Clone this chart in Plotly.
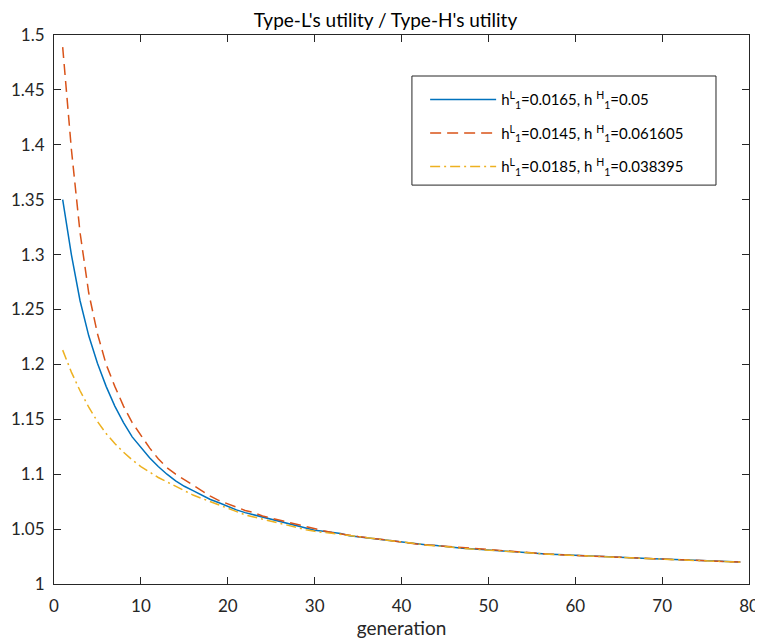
import plotly.graph_objects as go

generations = list(range(1, 80))

blue_vals = [
    1.350, 1.300, 1.258, 1.226, 1.201, 1.180, 1.162, 1.147, 1.134, 1.124,
    1.115, 1.107, 1.100, 1.094, 1.089, 1.085, 1.081, 1.077, 1.074, 1.0705,
    1.0675, 1.065, 1.063, 1.061, 1.0585, 1.0565, 1.0545, 1.0525, 1.0507, 1.049,
    1.048, 1.047, 1.046, 1.044, 1.043, 1.042, 1.041, 1.040, 1.039, 1.038,
    1.037, 1.036, 1.0355, 1.035, 1.034, 1.0333, 1.0326, 1.032, 1.0314, 1.031,
    1.0304, 1.0298, 1.0292, 1.0287, 1.0282, 1.0277, 1.0272, 1.0268, 1.0264, 1.026,
    1.0256, 1.0252, 1.0248, 1.0245, 1.0242, 1.0239, 1.0236, 1.0233, 1.023, 1.0227,
    1.0224, 1.0221, 1.0218, 1.0215, 1.0212, 1.0209, 1.0206, 1.0203, 1.020,
]

red_vals = [
    1.489, 1.396, 1.320, 1.265, 1.228, 1.200, 1.180, 1.162, 1.147, 1.135,
    1.124, 1.114, 1.106, 1.100, 1.095, 1.090, 1.085, 1.080, 1.076, 1.073,
    1.070, 1.067, 1.065, 1.062, 1.060, 1.058, 1.056, 1.054, 1.052, 1.050,
    1.0485, 1.047, 1.046, 1.0445, 1.0433, 1.0422, 1.0412, 1.0402, 1.0392, 1.0382,
    1.0372, 1.0362, 1.0356, 1.035, 1.034, 1.0333, 1.0326, 1.032, 1.0314, 1.031,
    1.0304, 1.0298, 1.0292, 1.0287, 1.0282, 1.0277, 1.0272, 1.0268, 1.0264, 1.026,
    1.0256, 1.0252, 1.0248, 1.0245, 1.0242, 1.0239, 1.0236, 1.0233, 1.023, 1.0227,
    1.0224, 1.0221, 1.0218, 1.0215, 1.0212, 1.0209, 1.0206, 1.0203, 1.020,
]

yellow_vals = [
    1.213, 1.193, 1.176, 1.161, 1.148, 1.137, 1.128, 1.120, 1.113, 1.107,
    1.102, 1.097, 1.093, 1.089, 1.085, 1.081, 1.078, 1.075, 1.072, 1.069,
    1.066, 1.063, 1.061, 1.059, 1.057, 1.055, 1.053, 1.051, 1.0495, 1.048,
    1.047, 1.0458, 1.0452, 1.0437, 1.0427, 1.0417, 1.0407, 1.0397, 1.0387, 1.0378,
    1.0369, 1.036, 1.0354, 1.0348, 1.0339, 1.0332, 1.0325, 1.0319, 1.0313, 1.0309,
    1.0303, 1.0297, 1.0291, 1.0286, 1.0281, 1.0276, 1.0271, 1.0267, 1.0263, 1.0259,
    1.0255, 1.0251, 1.0247, 1.0244, 1.0241, 1.0238, 1.0235, 1.0232, 1.0229, 1.0226,
    1.0223, 1.022, 1.0217, 1.0214, 1.0211, 1.0208, 1.0205, 1.0202, 1.0199,
]

series_names = [
    "h<sup>L</sup><sub>1</sub>=0.0165, h <sup>H</sup><sub>1</sub>=0.05",
    "h<sup>L</sup><sub>1</sub>=0.0145, h <sup>H</sup><sub>1</sub>=0.061605",
    "h<sup>L</sup><sub>1</sub>=0.0185, h <sup>H</sup><sub>1</sub>=0.038395",
]

x_ticks = [0, 10, 20, 30, 40, 50, 60, 70, 80]
x_labels = ["0", "10", "20", "30", "40", "50", "60", "70", "80"]
y_ticks = [1, 1.05, 1.1, 1.15, 1.2, 1.25, 1.3, 1.35, 1.4, 1.45, 1.5]
y_labels = ["1", "1.05", "1.1", "1.15", "1.2", "1.25", "1.3", "1.35", "1.4", "1.45", "1.5"]

FONT = "Lato"
AXC = "#262626"

fig = go.Figure()
fig.add_trace(go.Scatter(x=generations, y=blue_vals, mode="lines", name=series_names[0],
                         legendgroup="a",
                         line=dict(color="#0072BD", width=1.5)))
fig.add_trace(go.Scatter(x=generations, y=red_vals, mode="lines", name=series_names[1],
                         legendgroup="b",
                         line=dict(color="#D95319", width=1.5, dash="11px,6px")))
fig.add_trace(go.Scatter(x=generations, y=yellow_vals, mode="lines", name=series_names[2],
                         legendgroup="c",
                         line=dict(color="#EDB120", width=1.5, dash="10px,4px,2px,4px")))

# legend frame (drawn as a shape so the sample lines can be inset like the original)
fig.add_shape(type="rect", xref="paper", yref="paper",
              x0=0.515, x1=0.9525, y0=0.7266, y1=0.9253,
              line=dict(color="#262626", width=1), fillcolor="white", layer="above")

fig.update_layout(
    width=755, height=635,
    margin=dict(l=46, r=14, t=27, b=59),
    paper_bgcolor="white", plot_bgcolor="white",
    font=dict(family=FONT, size=17, color=AXC),
    title=dict(text="Type-L's utility / Type-H's utility", x=0.5, xanchor="center",
               y=0.981, yanchor="middle", font=dict(family=FONT, size=19, color="#000000")),
    showlegend=True,
    legend=dict(x=0.534, y=0.912, xanchor="left", yanchor="top",
                borderwidth=0, bgcolor="rgba(0,0,0,0)",
                font=dict(family=FONT, size=15, color="#000000"),
                itemwidth=66, tracegroupgap=11),
)
fig.update_xaxes(range=[0, 80], tickvals=x_ticks, ticktext=x_labels, automargin=False,
                 showgrid=False, zeroline=False, showline=True, linecolor=AXC, linewidth=1,
                 mirror="ticks", ticks="inside", ticklen=7, tickcolor=AXC,
                 ticklabelstandoff=7,
                 title=dict(text="generation", standoff=2, font=dict(size=19, color=AXC)))
fig.update_yaxes(range=[1, 1.5], tickvals=y_ticks, ticktext=y_labels, automargin=False,
                 showgrid=False, zeroline=False, showline=True, linecolor=AXC, linewidth=1,
                 mirror="ticks", ticks="inside", ticklen=7, tickcolor=AXC,
                 ticklabelstandoff=5)

fig.write_html("out.html")
